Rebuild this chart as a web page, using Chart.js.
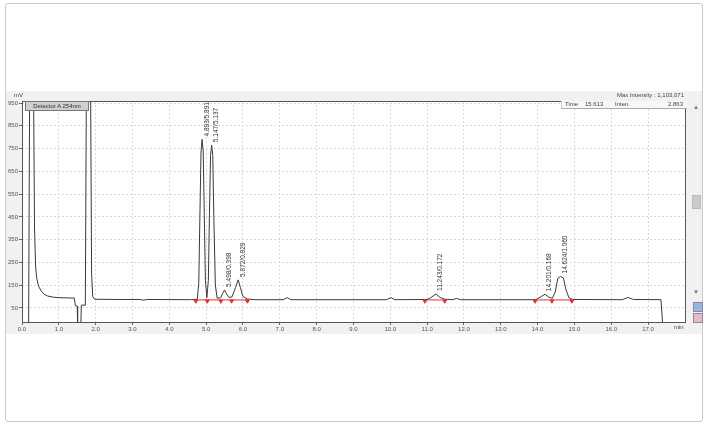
<!DOCTYPE html>
<html><head><meta charset="utf-8">
<script src="https://cdn.jsdelivr.net/npm/chart.js@4.4.0/dist/chart.umd.min.js"></script>
<style>
html,body{margin:0;padding:0;background:#fff;width:707px;height:425px;overflow:hidden;font-family:"Liberation Sans",Arial,sans-serif;}
#frame{position:absolute;left:5px;top:3px;width:696px;height:417px;border:1px solid #c9c9c9;border-radius:3px;}
#band{position:absolute;left:6px;top:91px;width:696px;height:243px;background:#f1f1f1;}
#c{position:absolute;left:0;top:0;}
.t{position:absolute;font-size:6px;color:#444;white-space:pre;line-height:7px;}
#det{position:absolute;left:25px;top:101px;width:62px;height:8px;background:#cfcfcf;border:1px solid #777;font-size:6px;color:#333;line-height:8px;text-align:center;white-space:nowrap;overflow:hidden;}
#info{position:absolute;left:561px;top:101px;width:125px;height:7px;background:#f7f7f7;border-bottom:1px solid #aaa;border-left:1px solid #ccc;}
#sb{position:absolute;left:688px;top:92px;width:14px;height:240px;background:#f1f1f1;}
#thumb{position:absolute;left:692px;top:195px;width:7px;height:12px;background:#cacaca;border:1px solid #bbb;}
.ic{position:absolute;width:8px;height:8px;border:1px solid #889;}
</style></head>
<body>
<div id="frame"></div>
<div id="band"></div>
<div id="sb"></div>
<div id="thumb"></div>
<div class="t" style="left:693px;top:104px;color:#777">▲</div>
<div class="t" style="left:693px;top:289px;color:#777">▼</div>
<div class="ic" style="left:693px;top:302px;background:#9db3e6"></div>
<div class="ic" style="left:693px;top:313px;background:#e9b9c6"></div>
<canvas id="c" width="707" height="425"></canvas>
<div class="t" style="left:14px;top:92px">mV</div>
<div class="t" style="left:600px;top:92px;width:84px;text-align:right">Max Intensity : 1,103,071</div>
<div id="info"></div>
<div class="t" style="left:565px;top:101px">Time</div>
<div class="t" style="left:585px;top:101px">15.613</div>
<div class="t" style="left:615px;top:101px">Inten.</div>
<div class="t" style="left:668px;top:101px">2.863</div>
<div id="det">Detector A 254nm</div>
<div class="t" style="left:674px;top:324px">min</div>
<script>
// chromatogram trace (time in min, signal in mV)
const times  = [0.00,0.18,0.21,0.31,0.34,0.37,0.40,0.45,0.52,0.60,0.70,0.85,1.00,1.20,1.42,1.45,1.50,1.51,1.60,1.61,1.72,1.75,1.86,1.89,1.92,1.97,2.50,3.20,3.30,3.40,4.60,4.76,4.80,4.83,4.86,4.89,4.92,4.95,4.98,5.02,5.06,5.09,5.12,5.15,5.18,5.21,5.25,5.30,5.40,5.45,5.50,5.55,5.62,5.70,5.80,5.87,5.93,6.00,6.12,6.30,7.10,7.20,7.30,9.90,10.02,10.12,11.00,11.10,11.24,11.35,11.48,11.70,11.80,11.90,13.95,14.10,14.20,14.30,14.40,14.48,14.55,14.62,14.70,14.77,14.85,14.95,16.30,16.45,16.60,17.35,17.40,17.45];
const signal = [-15,-15,1100,1100,400,230,180,145,125,110,102,97,95,94,93,60,58,-20,-20,62,62,1100,1100,200,100,88,87,87,84,87,86,88,160,450,730,790,740,460,170,95,170,460,720,765,720,440,150,92,95,115,129,112,96,98,140,173,140,100,89,86,86,95,86,86,95,86,87,95,111,96,88,86,92,86,86,100,110,98,92,120,180,188,182,130,95,87,86,96,87,86,-30,-30];
// labelled peaks
const peakTimes   = [4.89,5.15,5.50,5.87,11.24,14.20,14.62];
const peakHeights = [790,765,129,173,111,110,188];
const peakLabels  = ["4.893/5.891","5.147/5.137","5.498/0.398","5.872/0.829","11.243/0.172","14.201/0.168","14.624/1.060"];
// integration marks
const markTimes = [4.72,5.03,5.40,5.69,6.12,10.94,11.48,13.93,14.39,14.93];
const markLevel = 80;
const segStart = [4.70,10.92,13.92];
const segEnd   = [6.15,11.50,14.95];
const segLevel = 85;
// axis ticks
const xTicks = [0,1,2,3,4,5,6,7,8,9,10,11,12,13,14,15,16,17];
const yTicks = [50,150,250,350,450,550,650,750,850,950];

const trace = times.map((t,i)=>({x:t,y:signal[i]}));
const marks = markTimes.map(t=>({x:t,y:markLevel}));
const segs = [];
segStart.forEach((s,i)=>{segs.push({x:s,y:segLevel});segs.push({x:segEnd[i],y:segLevel});segs.push({x:segEnd[i],y:null});});

const labelPlugin = {
  id:'peakLabels',
  afterDatasetsDraw(chart){
    const ctx=chart.ctx, xs=chart.scales.x, ys=chart.scales.y, a=chart.chartArea;
    ctx.save();
    ctx.beginPath();ctx.rect(a.left,a.top,a.right-a.left,a.bottom-a.top);ctx.clip();
    ctx.font='6.5px "Liberation Sans", Arial, sans-serif';
    ctx.fillStyle='#333';
    peakTimes.forEach((t,i)=>{
      const px=xs.getPixelForValue(t), py=ys.getPixelForValue(peakHeights[i]);
      const len=ctx.measureText(peakLabels[i]).width;
      let start=py-3;
      if(start-len<a.top+1) start=a.top+1+len;
      ctx.save();
      ctx.translate(px+1.5,start);
      ctx.rotate(-Math.PI/2);
      ctx.textBaseline='top';ctx.textAlign='left';
      ctx.fillText(peakLabels[i],0,0);
      ctx.restore();
    });
    ctx.restore();
    ctx.save();
    ctx.strokeStyle='#555';ctx.lineWidth=1;
    ctx.strokeRect(a.left+0.5,a.top+0.5,a.right-a.left-1,a.bottom-a.top);
    ctx.restore();
  }
};
const bgPlugin = {
  id:'bg',
  beforeDraw(chart){
    const a=chart.chartArea,ctx=chart.ctx;
    ctx.save();ctx.fillStyle='#fff';ctx.fillRect(a.left,a.top,a.right-a.left,a.bottom-a.top);ctx.restore();
  }
};

new Chart(document.getElementById('c'),{
  type:'line',
  data:{datasets:[
    {data:trace,borderColor:'#3a3a3a',borderWidth:1,pointRadius:0,tension:0,order:1},
    {data:segs,borderColor:'#e83030',borderWidth:1,pointRadius:0,spanGaps:false,order:2},
    {data:marks,showLine:false,pointStyle:'triangle',rotation:180,pointRadius:2.2,pointBackgroundColor:'#e83030',pointBorderColor:'#e83030',order:0}
  ]},
  options:{
    responsive:false,animation:false,
    layout:{padding:{left:0,top:101,right:21,bottom:91}},
    plugins:{legend:{display:false},tooltip:{enabled:false}},
    scales:{
      x:{type:'linear',min:0,max:18.03,
        afterBuildTicks:s=>{s.ticks=xTicks.map(v=>({value:v}));},
        afterFit:s=>{s.height=12;},
        ticks:{font:{size:6,family:'"Liberation Sans", Arial'},color:'#555',padding:1,maxRotation:0,autoSkip:false,callback:v=>Number(v).toFixed(1)},
        grid:{color:'#dadada',tickLength:3,tickColor:'#666'},
        border:{display:false,dash:[2,2]}},
      y:{type:'linear',min:-12,max:959,
        afterBuildTicks:s=>{s.ticks=yTicks.map(v=>({value:v}));},
        afterFit:s=>{s.width=22;},
        ticks:{font:{size:6,family:'"Liberation Sans", Arial'},color:'#555',padding:1,autoSkip:false},
        grid:{color:'#dadada',tickLength:3,tickColor:'#666'},
        border:{display:false,dash:[2,2]}}
    }
  },
  plugins:[bgPlugin,labelPlugin]
});
</script>
</body></html>
